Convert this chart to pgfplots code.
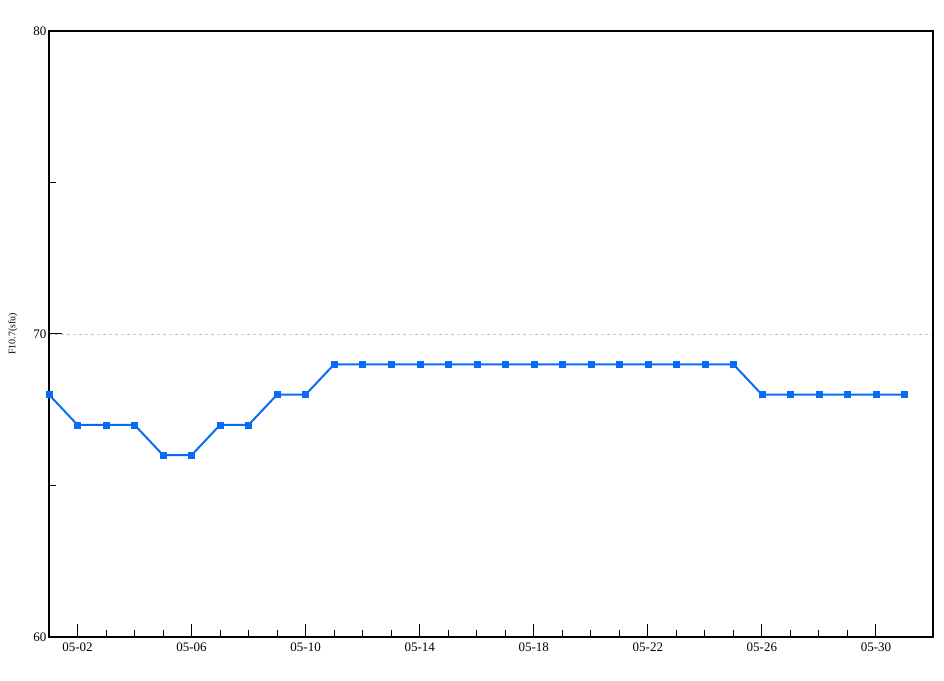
\documentclass[border=0pt]{standalone}
\usepackage{pgfplots}
\pgfplotsset{compat=1.18}
\usepackage{fontspec}
\setmainfont{Liberation Serif}
\definecolor{lineblue}{HTML}{0A6CF5}
\begin{document}
\begin{tikzpicture}[x=1pt,y=1pt]
\begin{axis}[
  at={(0,0)}, anchor=south west,
  scale only axis, width=884pt, height=606pt,
  xmin=1, xmax=32, ymin=60, ymax=80,
  axis line style={line width=2pt},
  xtick={2,6,10,14,18,22,26,30},
  xticklabels={05-02,05-06,05-10,05-14,05-18,05-22,05-26,05-30},
  minor x tick num=3,
  ytick={60,70,80},
  minor ytick={65,75},
  tick pos=left,
  tick align=inside,
  major tick length=13pt, minor tick length=7.5pt,
  tick style={black, line width=1pt},
  ymajorgrids,
  grid style={gray!45, dashed, line width=0.6pt},
  /pgf/number format/assume math mode=true,
  ticklabel style={font=\fontsize{13}{15}\selectfont},
  xticklabel style={yshift=-2pt},
  yticklabel style={xshift=1pt},
  ylabel={F10.7(sfu)},
  ylabel style={font=\fontsize{10}{12}\selectfont, at={(axis description cs:-0.0407,0.5)}, anchor=center},
  clip=false,
]
\addplot[lineblue, line width=2pt, mark=square*, mark size=3pt, mark options={fill=lineblue, draw=lineblue, line width=0.4pt}]
coordinates {
(1,68)(2,67)(3,67)(4,67)(5,66)(6,66)(7,67)(8,67)(9,68)(10,68)
(11,69)(12,69)(13,69)(14,69)(15,69)(16,69)(17,69)(18,69)(19,69)(20,69)
(21,69)(22,69)(23,69)(24,69)(25,69)(26,68)(27,68)(28,68)(29,68)(30,68)(31,68)
};
\end{axis}
\pgfresetboundingbox
\path (-49pt,-43pt) rectangle (895pt,637pt);
\end{tikzpicture}
\end{document}
